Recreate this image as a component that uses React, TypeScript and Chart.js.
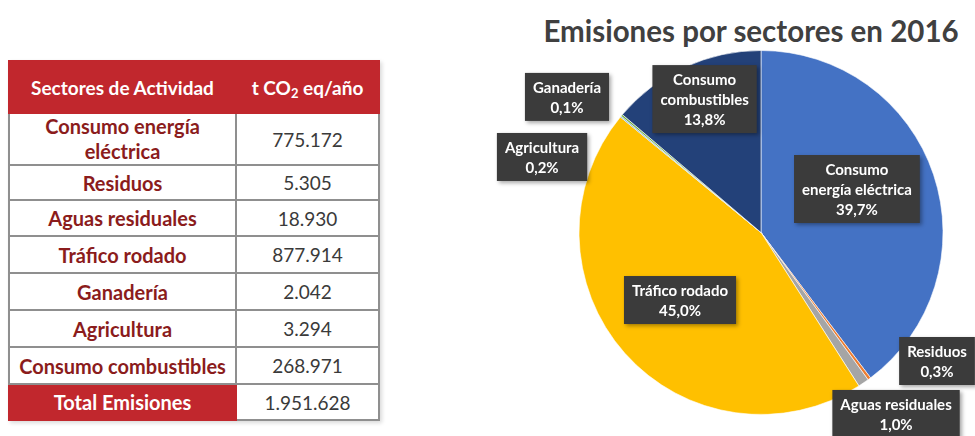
import React, { useEffect, useRef } from "react";
import { Chart, registerables } from "chart.js";

Chart.register(...registerables);

// ---- data ----
const chartTitle = "Emisiones por sectores en 2016";
const categories = [
  "Consumo energía eléctrica",
  "Residuos",
  "Aguas residuales",
  "Tráfico rodado",
  "Ganadería",
  "Agricultura",
  "Consumo combustibles",
];
const emissions = [775172, 5305, 18930, 877914, 2042, 3294, 268971];
const pieLabelLines = [
  ["Consumo", "energía eléctrica"],
  ["Residuos"],
  ["Aguas residuales"],
  ["Tráfico rodado"],
  ["Ganadería"],
  ["Agricultura"],
  ["Consumo", "combustibles"],
];
const tableHeaders = ["Sectores de Actividad", "eq/año"];
const totalLabel = "Total Emisiones";

// ---- style / layout ----
const sliceColors = ["#4472C4", "#ED7D31", "#A5A5A5", "#FFC000", "#5B9BD5", "#70AD47", "#234179"];
// label box centres relative to pie centre, in units of pie radius
const labelOffsets: [number, number][] = [
  [0.527, -0.239],
  [0.967, 0.706],
  [0.742, 0.997],
  [-0.445, 0.371],
  [-1.066, -0.745],
  [-1.203, -0.415],
  [-0.31, -0.733],
];
const FONT = "Lato, 'Open Sans', sans-serif";

const fmt = (n: number) => String(n).replace(/\B(?=(\d{3})+(?!\d))/g, ".");
const total = emissions.reduce((a, b) => a + b, 0);
const pct = (v: number) => ((v / total) * 100).toFixed(1).replace(".", ",") + "%";

const labelPlugin = {
  id: "boxLabels",
  afterDraw(chart: any) {
    const meta = chart.getDatasetMeta(0);
    const arc = meta.data[0] as any;
    if (!arc) return;
    const cx = arc.x;
    const cy = arc.y;
    const r = arc.outerRadius;
    const ctx = chart.ctx as CanvasRenderingContext2D;
    ctx.save();
    ctx.font = `bold 15px ${FONT}`;
    const lh = 20;
    emissions.forEach((v, i) => {
      const lines = [...pieLabelLines[i], pct(v)];
      const [dx, dy] = labelOffsets[i];
      const x = cx + dx * r;
      const y = cy + dy * r;
      const w = Math.max(...lines.map((l) => ctx.measureText(l).width)) + 16;
      const h = lines.length * lh + 8;
      ctx.shadowColor = "rgba(0,0,0,0.35)";
      ctx.shadowBlur = 4;
      ctx.shadowOffsetX = 2;
      ctx.shadowOffsetY = 2;
      ctx.fillStyle = "#3b3b3b";
      ctx.fillRect(x - w / 2, y - h / 2, w, h);
      ctx.shadowColor = "transparent";
      ctx.fillStyle = "#ffffff";
      ctx.textAlign = "center";
      ctx.textBaseline = "middle";
      lines.forEach((l, k) => ctx.fillText(l, x, y - h / 2 + 4 + lh * (k + 0.5) + 1));
    });
    ctx.restore();
  },
};

const cellBorder = "2px solid #8f8f8f";
const redBg = "#C1272D";
const labelColor = "#8B1C1C";
const rowHeights = [52, 35, 36, 37, 37, 37, 37];

export default function App() {
  const canvasRef = useRef<HTMLCanvasElement | null>(null);

  useEffect(() => {
    if (!canvasRef.current) return;
    const chart = new Chart(canvasRef.current, {
      type: "pie",
      data: {
        labels: categories,
        datasets: [
          {
            data: emissions,
            backgroundColor: sliceColors,
            borderColor: "rgba(255,255,255,0.6)",
            borderWidth: 1,
            radius: 182,
          } as any,
        ],
      },
      options: {
        responsive: false,
        animation: false,
        layout: { padding: { left: 159, right: 0, top: 29, bottom: 0 } },
        plugins: {
          legend: { display: false },
          tooltip: { enabled: false },
          title: { display: false },
        },
      },
      plugins: [labelPlugin],
    });
    return () => chart.destroy();
  }, []);

  const thStyle: React.CSSProperties = {
    background: redBg,
    color: "#fff",
    fontWeight: 700,
    fontSize: 19,
    height: 50,
    padding: 0,
    textAlign: "center",
    border: `2px solid ${redBg}`,
    whiteSpace: "nowrap",
  };
  const labelTd: React.CSSProperties = {
    color: labelColor,
    fontWeight: 700,
    fontSize: 20,
    textAlign: "center",
    border: cellBorder,
    padding: "0 4px",
    lineHeight: "26px",
  };
  const numTd: React.CSSProperties = {
    color: "#3a3a3a",
    fontSize: 19,
    textAlign: "center",
    border: cellBorder,
    padding: 0,
  };

  return (
    <div
      style={{
        position: "fixed",
        left: 0,
        top: 0,
        width: 975,
        height: 436,
        overflow: "hidden",
        background: "#fff",
        fontFamily: FONT,
      }}
    >
      <table
        style={{
          position: "absolute",
          left: 8,
          top: 60,
          width: 370,
          borderCollapse: "collapse",
          tableLayout: "fixed",
          boxShadow: "2px 2px 4px rgba(0,0,0,0.15)",
        }}
      >
        <colgroup>
          <col style={{ width: 227 }} />
          <col style={{ width: 143 }} />
        </colgroup>
        <thead>
          <tr>
            <th style={thStyle}>{tableHeaders[0]}</th>
            <th style={{ ...thStyle, borderLeft: "1px solid #d86a6e" }}>
              t CO<sub style={{ fontSize: 13, verticalAlign: "-3px", lineHeight: 0 }}>2</sub> {tableHeaders[1]}
            </th>
          </tr>
        </thead>
        <tbody>
          {categories.map((c, i) => (
            <tr key={c} style={{ height: rowHeights[i] }}>
              <td style={{ ...labelTd, lineHeight: i === 0 ? "25px" : "22px" }}>{c}</td>
              <td style={numTd}>{fmt(emissions[i])}</td>
            </tr>
          ))}
          <tr style={{ height: 36 }}>
            <td style={{ ...labelTd, lineHeight: "22px", background: redBg, color: "#fff", borderColor: redBg }}>
              {totalLabel}
            </td>
            <td style={numTd}>{fmt(total)}</td>
          </tr>
        </tbody>
      </table>

      <div
        style={{
          position: "absolute",
          left: 500,
          top: 13,
          width: 502,
          textAlign: "center",
          fontSize: 29.5,
          fontWeight: 700,
          color: "#404040",
          whiteSpace: "nowrap",
        }}
      >
        {chartTitle}
      </div>

      <canvas
        ref={canvasRef}
        width={587}
        height={436}
        style={{ position: "absolute", left: 388, top: 0, width: 587, height: 436 }}
      />
    </div>
  );
}
